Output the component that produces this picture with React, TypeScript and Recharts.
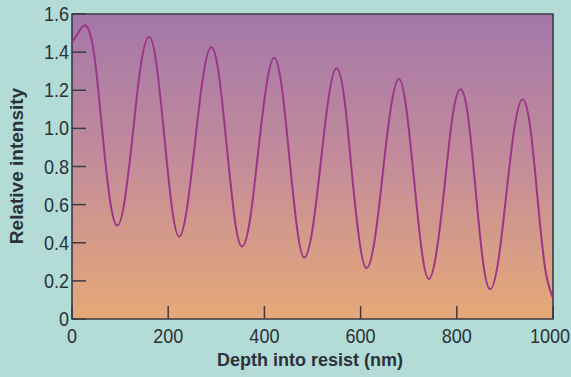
import { LineChart, Line, XAxis, YAxis, CartesianGrid, ReferenceArea } from "recharts";

// depth into resist (nm) and relative intensity
const depth = [
  0, 15, 30, 46, 62, 78, 94, 110, 127, 143, 160, 176, 192, 208, 223, 239, 256, 273,
  290, 306, 322, 338, 353, 370, 387, 404, 420, 436, 452, 468, 483, 500, 517, 534,
  550, 566, 581, 597, 612, 629, 646, 663, 680, 695, 711, 727, 742, 758, 775, 791,
  808, 824, 839, 854, 869, 886, 903, 920, 937, 953, 968, 984, 1000,
];
const intensity = [
  1.45, 1.51, 1.537, 1.39, 1.01, 0.64, 0.49, 0.63, 0.985, 1.33, 1.48, 1.33, 0.956,
  0.58, 0.432, 0.58, 0.93, 1.28, 1.425, 1.27, 0.9, 0.53, 0.38, 0.52, 0.876, 1.22,
  1.371, 1.22, 0.846, 0.475, 0.322, 0.47, 0.818, 1.17, 1.315, 1.16, 0.79, 0.42,
  0.266, 0.41, 0.762, 1.11, 1.259, 1.105, 0.735, 0.36, 0.21, 0.355, 0.707, 1.06,
  1.205, 1.05, 0.68, 0.31, 0.157, 0.3, 0.655, 1.005, 1.153, 1.0, 0.63, 0.26, 0.11,
];
const xTicks = [0, 200, 400, 600, 800, 1000];
const yTicks = [0, 0.2, 0.4, 0.6, 0.8, 1.0, 1.2, 1.4, 1.6];

const data = depth.map((d, i) => ({ depth: d, value: intensity[i] }));

const FONT = '"Liberation Sans", Arial, sans-serif';
const INK = "#2b323c";
const FRAME = "#3a3a46";

// slightly condensed tick text, like the printed figure
const Narrow = ({ x, y, anchor, children }: any) => (
  <text
    transform={`translate(${x},${y}) scale(0.88,1)`}
    textAnchor={anchor}
    fontFamily={FONT}
    fontSize={20.5}
    fill={INK}
  >
    {children}
  </text>
);

const YTick = (props: any) => {
  const { x, y, payload } = props;
  const v = payload.value;
  return (
    <g>
      <line x1={x} x2={x + 14} y1={y} y2={y} stroke={FRAME} strokeWidth={1.5} />
      <Narrow x={x - 3} y={y + 7} anchor="end">
        {v === 0 ? "0" : v.toFixed(1)}
      </Narrow>
    </g>
  );
};

const XTick = (props: any) => {
  const { x, y, payload } = props;
  const shift = payload.value === 1000 ? -3 : 0;
  return (
    <g>
      <line x1={x} x2={x} y1={y} y2={y - 13} stroke={FRAME} strokeWidth={1.5} />
      <Narrow x={x + shift} y={y + 24} anchor="middle">
        {payload.value}
      </Narrow>
    </g>
  );
};

export default function App() {
  return (
    <div style={{ position: "absolute", left: 0, top: 0, width: 571, height: 377, background: "#b4dcd6" }}>
      <LineChart width={571} height={377} data={data} margin={{ top: 14, right: 18, bottom: 0, left: 0 }}>
        <defs>
          <linearGradient id="plotGrad" x1="0" y1="0" x2="0" y2="1">
            <stop offset="0%" stopColor="#a477aa" />
            <stop offset="50%" stopColor="#c48d99" />
            <stop offset="100%" stopColor="#e6a977" />
          </linearGradient>
        </defs>
        <CartesianGrid horizontal={false} vertical={false} fill="url(#plotGrad)" fillOpacity={1} />
        <XAxis
          dataKey="depth"
          type="number"
          domain={[0, 1000]}
          ticks={xTicks}
          height={58}
          axisLine={false}
          tickLine={false}
          tickSize={0}
          tickMargin={0}
          tick={<XTick />}
          interval={0}
          label={{
            content: () => (
              <text x={310} y={366} textAnchor="middle" fontFamily={FONT} fontWeight="bold" fontSize={18} fill={INK}>
                Depth into resist (nm)
              </text>
            ),
          }}
        />
        <YAxis
          type="number"
          domain={[0, 1.6]}
          ticks={yTicks}
          width={72}
          axisLine={false}
          tickLine={false}
          tickSize={0}
          tickMargin={0}
          tick={<YTick />}
          interval={0}
          label={{
            content: () => (
              <text
                x={23}
                y={166}
                transform="rotate(-90 23 166)"
                textAnchor="middle"
                fontFamily={FONT}
                fontWeight="bold"
                fontSize={19}
                fill={INK}
              >
                Relative intensity
              </text>
            ),
          }}
        />
        <ReferenceArea x1={0} x2={1000} y1={0} y2={1.6} fill="none" stroke={FRAME} strokeWidth={1.6} ifOverflow="visible" />
        <Line
          dataKey="value"
          type="natural"
          stroke="#9c3588"
          strokeWidth={2}
          dot={false}
          isAnimationActive={false}
        />
      </LineChart>
    </div>
  );
}
